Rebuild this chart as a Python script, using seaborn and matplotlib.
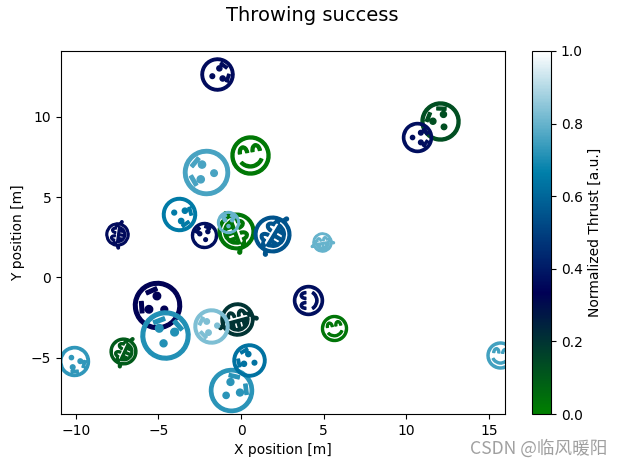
import matplotlib
matplotlib.use("Agg")
import matplotlib.pyplot as plt
import seaborn as sns
from matplotlib.colors import Normalize
from matplotlib.markers import MarkerStyle
from matplotlib.path import Path
from matplotlib.text import TextPath
from matplotlib.transforms import Affine2D

# values
x_pos = [-1.43, 0.55, -2.14, -3.78, -2.22, -0.30, -0.81, 1.89, 4.88, -7.5, 12.01, 10.62,
         -5.11, -4.63, -7.13, -0.24, -1.8, -0.62, 0.47, -10.1, 4.05, 5.62, 15.67]
y_pos = [12.65, 7.6, 6.56, 3.97, 2.62, 2.88, 3.45, 2.68, 2.2, 2.68, 9.74, 8.77,
         -1.74, -3.57, -4.55, -2.57, -3.05, -7.0, -5.13, -5.17, -1.41, -3.13, -4.82]
sizes = [33, 39, 46, 34, 26, 41, 22, 41, 21.5, 26, 39, 30,
         48, 49, 30, 37, 35, 44, 33, 30, 30, 26, 27]
angles = [-72, 10, 85, -110, 15, -70, 0, 59, 10, 82, 33, -90,
          59, -14, 65, 15, 99, -48, 66, -142, 90, 10, -5]
thrust = [0.36, 0.02, 0.76, 0.65, 0.37, 0.03, 0.8, 0.55, 0.8, 0.36, 0.13, 0.37,
          0.33, 0.71, 0.1, 0.2, 0.83, 0.72, 0.63, 0.73, 0.37, 0.03, 0.75]
mood = [1, 2, 1, 1, 1, 0, 1, 0, 0, 0, 1, 1, 1, 1, 0, 0, 1, 1, 1, 1, 2, 2, 2]
symbols = ["\U0001F602", "\U0001F62F", "\U0001F60A"]


def centred_glyph(char):
    path = TextPath((0, 0), char)
    box = path.get_extents()
    verts = path.vertices - [box.x0 + box.width / 2, box.y0 + box.height / 2]
    return Path(verts, path.codes)


glyphs = [centred_glyph(c) for c in symbols]
cmap = plt.colormaps["ocean"]

fig = plt.figure(figsize=(6.21, 4.66), dpi=100)
ax = fig.add_axes([61 / 621, 1 - 414 / 466, 444 / 621, 363 / 466])
cax = fig.add_axes([532 / 621, 1 - 414 / 466, 19 / 621, 363 / 466])
fig.suptitle("Throwing success", size=14, x=0.503, y=0.988)

for i in range(len(x_pos)):
    t = Affine2D().scale(sizes[i] / 7.0).rotate_deg(angles[i])
    m = MarkerStyle(glyphs[mood[i]], transform=t)
    c = cmap(thrust[i])
    sns.scatterplot(x=[x_pos[i]], y=[y_pos[i]], marker=m, color=c, edgecolor=c,
                    linewidth=1, s=36, ax=ax, legend=False)

ax.set_xlim(-10.9, 15.97)
ax.set_ylim(-8.5, 14.1)
ax.set_xlabel("X position [m]")
ax.set_ylabel("Y position [m]")

fig.colorbar(plt.cm.ScalarMappable(norm=Normalize(0, 1), cmap=cmap), cax=cax,
             label="Normalized Thrust [a.u.]")

fig.text(0.978, 0.037, "CSDN @临风暖阳", ha="right", va="center", fontsize=12.7,
         color="#a0a0a0", family=["Noto Sans CJK SC", "DejaVu Sans"])

fig.savefig("out.png", dpi=100)
